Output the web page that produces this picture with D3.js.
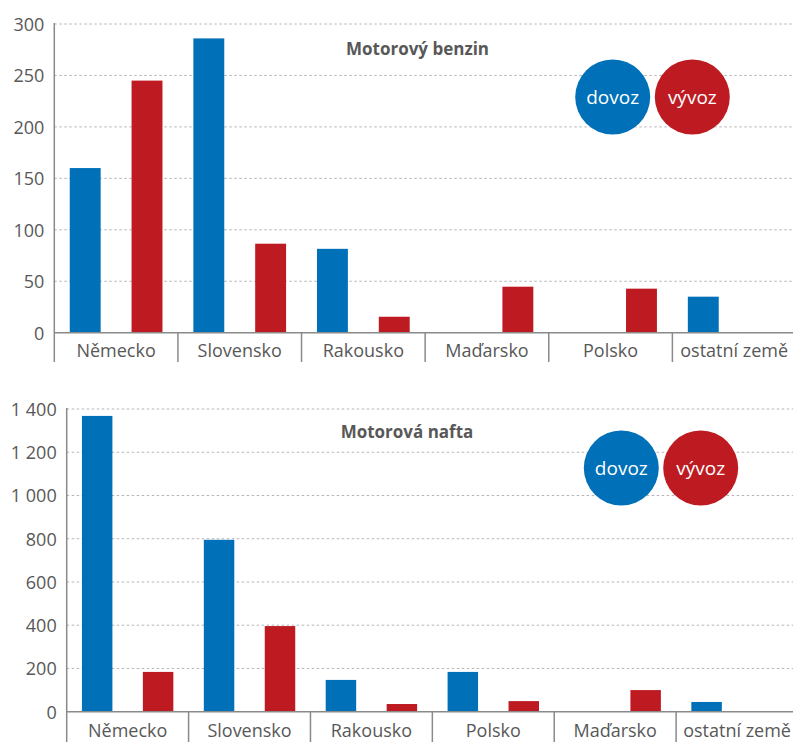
<!DOCTYPE html>
<html><head><meta charset="utf-8">
<script src="https://cdn.jsdelivr.net/npm/d3@7"></script>
<style>
html,body{margin:0;padding:0;background:#fff;}
svg{display:block;font-family:"Open Sans","Noto Sans",sans-serif;}
</style></head>
<body>
<svg id="chart" width="793" height="742"></svg>
<script>
// ---- data ----
const benzinCategories = ["Německo","Slovensko","Rakousko","Maďarsko","Polsko","ostatní země"];
const benzinDovoz = [160, 286, 81.5, 0, 0, 35];
const benzinVyvoz = [245, 86.5, 15.5, 44.7, 42.8, 0];
const benzinTicks = [0, 50, 100, 150, 200, 250, 300];

const naftaCategories = ["Německo","Slovensko","Rakousko","Polsko","Maďarsko","ostatní země"];
const naftaDovoz = [1368, 795, 147, 184, 0, 45];
const naftaVyvoz = [184, 396, 35.5, 49, 100, 0];
const naftaTicks = [0, 200, 400, 600, 800, 1000, 1200, 1400];

const seriesNames = ["dovoz", "vývoz"];
const seriesColors = ["#0070b9", "#bd1b21"];
const titles = ["Motorový benzin", "Motorová nafta"];

const svg = d3.select("#chart");
const fmt = d => d3.format(",")(d).replace(/,/g, " ");
const textColor = "#585858";
const axisColor = "#8a8a8a";

function drawPanel(cfg) {
  const g = svg.append("g");
  const x = d3.scaleBand().domain(cfg.categories).range([cfg.left, cfg.right]);
  const xs = d3.scaleBand().domain([0, 1]).range([0, x.bandwidth()]).paddingInner(0.5).paddingOuter(0.25);
  const y = d3.scaleLinear().domain([0, cfg.max]).range([cfg.bottom, cfg.top]);

  // gridlines
  g.selectAll("line.grid").data(cfg.ticks.filter(t => t > 0)).join("line")
    .attr("x1", cfg.left).attr("x2", 793)
    .attr("y1", d => y(d)).attr("y2", d => y(d))
    .attr("stroke", "#b5b5b5").attr("stroke-width", 1).attr("stroke-dasharray", "2.5,2.5");

  // tick labels
  g.selectAll("text.tick").data(cfg.ticks).join("text")
    .attr("x", cfg.left - 10).attr("y", d => y(d))
    .attr("text-anchor", "end").attr("dominant-baseline", "central")
    .attr("fill", textColor).attr("font-size", 18).text(fmt);

  // bars
  const rows = cfg.categories.map((c, i) => ({ c, v: [cfg.dovoz[i], cfg.vyvoz[i]] }));
  const grp = g.selectAll("g.cat").data(rows).join("g").attr("transform", d => `translate(${x(d.c)},0)`);
  grp.selectAll("rect").data(d => d.v.map((v, k) => ({ v, k }))).join("rect")
    .attr("x", d => xs(d.k)).attr("width", xs.bandwidth())
    .attr("y", d => y(d.v)).attr("height", d => cfg.bottom - y(d.v))
    .attr("fill", d => seriesColors[d.k]);

  // axes
  g.append("line").attr("x1", cfg.left).attr("x2", cfg.left)
    .attr("y1", y(cfg.max) - 1).attr("y2", cfg.sepEnd)
    .attr("stroke", axisColor).attr("stroke-width", 1.5);
  g.append("line").attr("x1", cfg.left).attr("x2", 793)
    .attr("y1", cfg.bottom).attr("y2", cfg.bottom)
    .attr("stroke", axisColor).attr("stroke-width", 1.5);
  g.selectAll("line.sep").data(cfg.categories.slice(1)).join("line")
    .attr("x1", d => x(d)).attr("x2", d => x(d))
    .attr("y1", cfg.bottom).attr("y2", cfg.sepEnd)
    .attr("stroke", axisColor).attr("stroke-width", 1.5);

  // category labels
  g.selectAll("text.cat").data(cfg.categories).join("text")
    .attr("x", d => x(d) + x.bandwidth() / 2).attr("y", cfg.labelY)
    .attr("text-anchor", "middle").attr("fill", textColor).attr("font-size", 18)
    .text(d => d);

  // title
  g.append("text").attr("x", cfg.titleX).attr("y", cfg.titleY)
    .attr("text-anchor", "middle").attr("fill", textColor)
    .attr("font-size", 17).attr("font-weight", "bold").text(cfg.title);

  // legend
  cfg.legend.forEach((cx, k) => {
    g.append("circle").attr("cx", cx).attr("cy", cfg.legendY).attr("r", 37.5).attr("fill", seriesColors[k]);
    g.append("text").attr("x", cx).attr("y", cfg.legendY).attr("text-anchor", "middle")
      .attr("dominant-baseline", "central").attr("fill", "#fff").attr("font-size", 19)
      .text(seriesNames[k]);
  });
}

drawPanel({
  categories: benzinCategories, dovoz: benzinDovoz, vyvoz: benzinVyvoz, ticks: benzinTicks,
  max: 300, left: 54.3, right: 796, top: 24, bottom: 332.7, sepEnd: 362, labelY: 357,
  title: titles[0], titleX: 417.5, titleY: 55, legend: [612.7, 692.3], legendY: 97
});
drawPanel({
  categories: naftaCategories, dovoz: naftaDovoz, vyvoz: naftaVyvoz, ticks: naftaTicks,
  max: 1400, left: 66.7, right: 798, top: 409, bottom: 711.7, sepEnd: 742, labelY: 737,
  title: titles[1], titleX: 407, titleY: 438, legend: [621.3, 700.7], legendY: 468
});
</script>
</body></html>
